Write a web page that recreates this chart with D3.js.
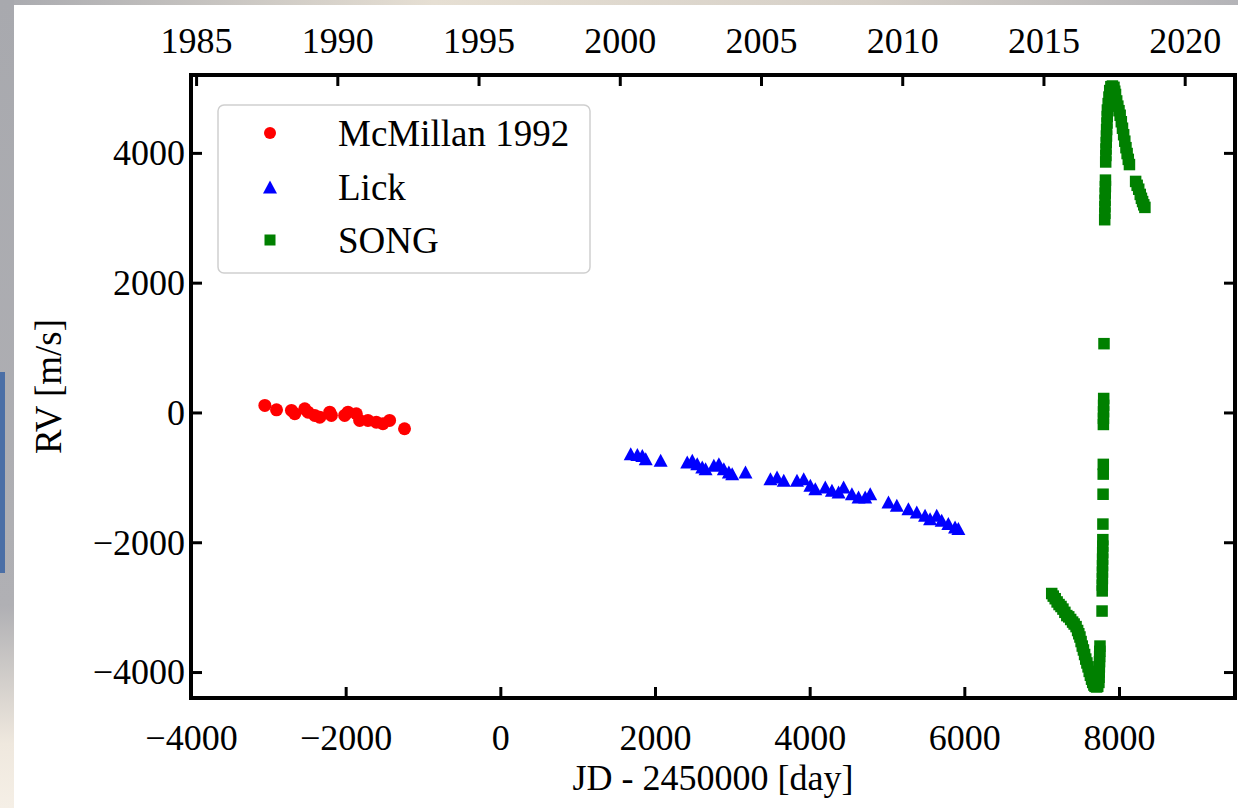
<!DOCTYPE html>
<html>
<head>
<meta charset="utf-8">
<script src="https://d3js.org/d3.v7.min.js"></script>
<style>
  body { margin: 0; background: #ffffff; }
  svg text { font-family: "Liberation Serif", "Times New Roman", serif; fill: #000; }
</style>
</head>
<body>
<svg id="chart" width="1238" height="808"></svg>
<script>
// data: [JD - 2450000, RV in m/s]
var mcmillan = [[-3045,108],[-2894,41],[-2701,31],[-2658,-20],[-2529,56],[-2486,5],[-2400,-46],[-2335,-72],
  [-2206,5],[-2185,-46],[-2013,-46],[-1970,5],[-1862,-20],[-1819,-123],[-1712,-123],[-1604,-149],
  [-1518,-174],[-1432,-123],[-1239,-251]];

var lick = [[1686,-636],[1772,-646],[1836,-662],[1880,-712],[2073,-738],[2417,-764],[2482,-738],[2546,-790],
  [2611,-841],[2654,-867],[2761,-815],[2826,-790],[2890,-867],[2955,-918],[2998,-944],[3170,-918],
  [3493,-1021],[3578,-995],[3665,-1046],[3836,-1046],[3923,-1021],[4009,-1123],[4073,-1175],[4202,-1148],
  [4288,-1200],[4374,-1226],[4439,-1148],[4546,-1251],[4632,-1302],[4718,-1302],[4783,-1251],[5019,-1380],
  [5127,-1431],[5277,-1482],[5385,-1534],[5492,-1585],[5557,-1636],[5643,-1585],[5707,-1662],[5793,-1713],
  [5880,-1765],[5923,-1790]];

var song = [[7130,-2790],[7150,-2830],[7175,-2870],[7200,-2920],[7225,-2960],[7250,-2990],[7275,-3030],
  [7300,-3080],[7325,-3130],[7350,-3150],[7375,-3190],[7400,-3230],[7420,-3260],[7445,-3300],[7465,-3360],
  [7480,-3410],[7495,-3460],[7510,-3530],[7525,-3600],[7540,-3660],[7555,-3730],[7570,-3800],[7585,-3860],
  [7600,-3920],[7615,-3990],[7630,-4050],[7645,-4110],[7660,-4160],[7675,-4200],[7690,-4220],[7710,-4230],
  [7725,-4220],[7740,-4160],[7742,-4080],[7744,-4000],[7746,-3920],[7748,-3840],[7750,-3760],[7752,-3680],
  [7754,-3600],[7781,-3060],[7783,-2750],[7784,-2660],[7785,-2560],[7786,-2460],[7787,-2360],[7788,-2260],
  [7789,-2160],[7790,-2060],[7791,-1960],[7792,-1720],[7794,-1260],[7796,-950],[7797,-800],[7798,-185],
  [7799,-90],[7800,10],[7801,110],[7802,215],[7806,1060],[7815,2970],[7817,3070],[7818,3170],[7820,3270],
  [7822,3380],[7824,3480],[7825,3580],[7828,3860],[7830,3960],[7832,4060],[7835,4160],[7838,4260],
  [7840,4360],[7845,4460],[7848,4560],[7850,4660],[7860,4760],[7870,4860],[7880,4960],[7895,5020],
  [7915,5030],[7935,5010],[7945,4950],[7955,4900],[7970,4800],[7985,4720],[8000,4650],[8015,4580],
  [8030,4480],[8045,4380],[8060,4280],[8075,4180],[8090,4080],[8105,3990],[8120,3900],[8135,3820],
  [8215,3560],[8235,3500],[8255,3440],[8275,3360],[8290,3300],[8305,3250],[8320,3200],[8335,3160]];

var xTicks = [-4000, -2000, 0, 2000, 4000, 6000, 8000];
var yTicks = [-4000, -2000, 0, 2000, 4000];
var yearTicks = [1985, 1990, 1995, 2000, 2005, 2010, 2015, 2020];
var legendLabels = ["McMillan 1992", "Lick", "SONG"];
var seriesColors = ["#ff0000", "#0000ff", "#008000"];

var svg = d3.select("#chart");

// blurred slide background around the figure
var defs = svg.append("defs");
var gTop = defs.append("linearGradient").attr("id", "bgTop");
gTop.append("stop").attr("offset", "0%").attr("stop-color", "#a9aaaf");
gTop.append("stop").attr("offset", "35%").attr("stop-color", "#e6dfd3");
gTop.append("stop").attr("offset", "70%").attr("stop-color", "#d6d0c8");
gTop.append("stop").attr("offset", "100%").attr("stop-color", "#b4b4b8");
var gLeft = defs.append("linearGradient").attr("id", "bgLeft")
  .attr("x1", 0).attr("y1", 0).attr("x2", 0).attr("y2", 1);
gLeft.append("stop").attr("offset", "0%").attr("stop-color", "#a8a9ae");
gLeft.append("stop").attr("offset", "75%").attr("stop-color", "#b0b0b4");
gLeft.append("stop").attr("offset", "92%").attr("stop-color", "#efe8de");
gLeft.append("stop").attr("offset", "100%").attr("stop-color", "#f5efe6");
svg.append("rect").attr("x", 0).attr("y", 0).attr("width", 1238).attr("height", 5).attr("fill", "url(#bgTop)");
svg.append("rect").attr("x", 0).attr("y", 0).attr("width", 14).attr("height", 808).attr("fill", "url(#bgLeft)");
svg.append("rect").attr("x", 0).attr("y", 372).attr("width", 5).attr("height", 201).attr("fill", "#4b6fa6");

// plot box (named to avoid clashing with window.top)
var pLeft = 191, pRight = 1235, pTop = 75, pBottom = 698;

var x = d3.scaleLinear().domain([-4000, 9500]).range([pLeft, pRight]);
var y = d3.scaleLinear().domain([-4400, 5200]).range([pBottom, pTop]);
// decimal year on the top axis (JD 2451544.5 = 2000.0)
function toYear(jd) { return 2000 + (jd - 1544.5) / 365.25; }
var xYear = d3.scaleLinear().domain([toYear(-4000), toYear(9500)]).range([pLeft, pRight]);

// markers
var plot = svg.append("g");
plot.selectAll("circle.mc").data(mcmillan).enter().append("circle")
  .attr("cx", function(d) { return x(d[0]); })
  .attr("cy", function(d) { return y(d[1]); })
  .attr("r", 6.5)
  .attr("fill", seriesColors[0]);

function triPath(w, h) { return "M0," + (-h / 2) + "L" + (w / 2) + "," + (h / 2) + "L" + (-w / 2) + "," + (h / 2) + "Z"; }
plot.selectAll("path.lick").data(lick).enter().append("path")
  .attr("d", triPath(14, 13))
  .attr("transform", function(d) { return "translate(" + x(d[0]) + "," + y(d[1]) + ")"; })
  .attr("fill", seriesColors[1]);

plot.selectAll("rect.song").data(song).enter().append("rect")
  .attr("x", function(d) { return x(d[0]) - 5.75; })
  .attr("y", function(d) { return y(d[1]) - 5.75; })
  .attr("width", 11.5).attr("height", 11.5)
  .attr("fill", seriesColors[2]);

// axes, ticks pointing inward
var fmt = d3.format("d");
var axB = svg.append("g").attr("transform", "translate(0," + pBottom + ")")
  .call(d3.axisBottom(x).tickValues(xTicks).tickFormat(fmt).tickSize(-11).tickPadding(0));
axB.selectAll("text").attr("y", 52).attr("dy", null).style("font-size", "36px");

var axT = svg.append("g").attr("transform", "translate(0," + pTop + ")")
  .call(d3.axisTop(xYear).tickValues(yearTicks).tickFormat(fmt).tickSize(-11).tickPadding(0));
axT.selectAll("text").attr("y", -22).attr("dy", null).style("font-size", "36px");

var axL = svg.append("g").attr("transform", "translate(" + pLeft + ",0)")
  .call(d3.axisLeft(y).tickValues(yTicks).tickFormat(fmt).tickSize(-11).tickPadding(6));
axL.selectAll("text").attr("dy", "0.33em").style("font-size", "36px");

svg.append("g").attr("transform", "translate(" + pRight + ",0)")
  .call(d3.axisRight(y).tickValues(yTicks).tickSize(-11).tickFormat(""));

svg.selectAll(".domain").remove();
svg.selectAll(".tick line").attr("stroke", "#000").attr("stroke-width", 3);

// frame
svg.append("rect").attr("x", pLeft).attr("y", pTop)
  .attr("width", pRight - pLeft).attr("height", pBottom - pTop)
  .attr("fill", "none").attr("stroke", "#000").attr("stroke-width", 4);

// axis labels
svg.append("text").attr("x", (pLeft + pRight) / 2).attr("y", 790)
  .attr("text-anchor", "middle").style("font-size", "36px")
  .text("JD - 2450000 [day]");
svg.append("text").attr("transform", "translate(61," + ((pTop + pBottom) / 2) + ") rotate(-90)")
  .attr("text-anchor", "middle").style("font-size", "37px")
  .text("RV [m/s]");

// legend
var leg = svg.append("g");
leg.append("rect").attr("x", 218).attr("y", 105).attr("width", 372).attr("height", 168)
  .attr("rx", 6).attr("fill", "#fff").attr("fill-opacity", 0.8)
  .attr("stroke", "#cfcfcf").attr("stroke-width", 1.5);
var rowY = [133, 187, 240];
leg.append("circle").attr("cx", 270).attr("cy", rowY[0]).attr("r", 6).attr("fill", seriesColors[0]);
leg.append("path").attr("d", triPath(14, 13)).attr("transform", "translate(270," + rowY[1] + ")").attr("fill", seriesColors[1]);
leg.append("rect").attr("x", 264.5).attr("y", rowY[2] - 5.5).attr("width", 11).attr("height", 11).attr("fill", seriesColors[2]);
legendLabels.forEach(function(l, i) {
  leg.append("text").attr("x", 338).attr("y", rowY[i] + 13).style("font-size", "37px").text(l);
});
</script>
</body>
</html>
